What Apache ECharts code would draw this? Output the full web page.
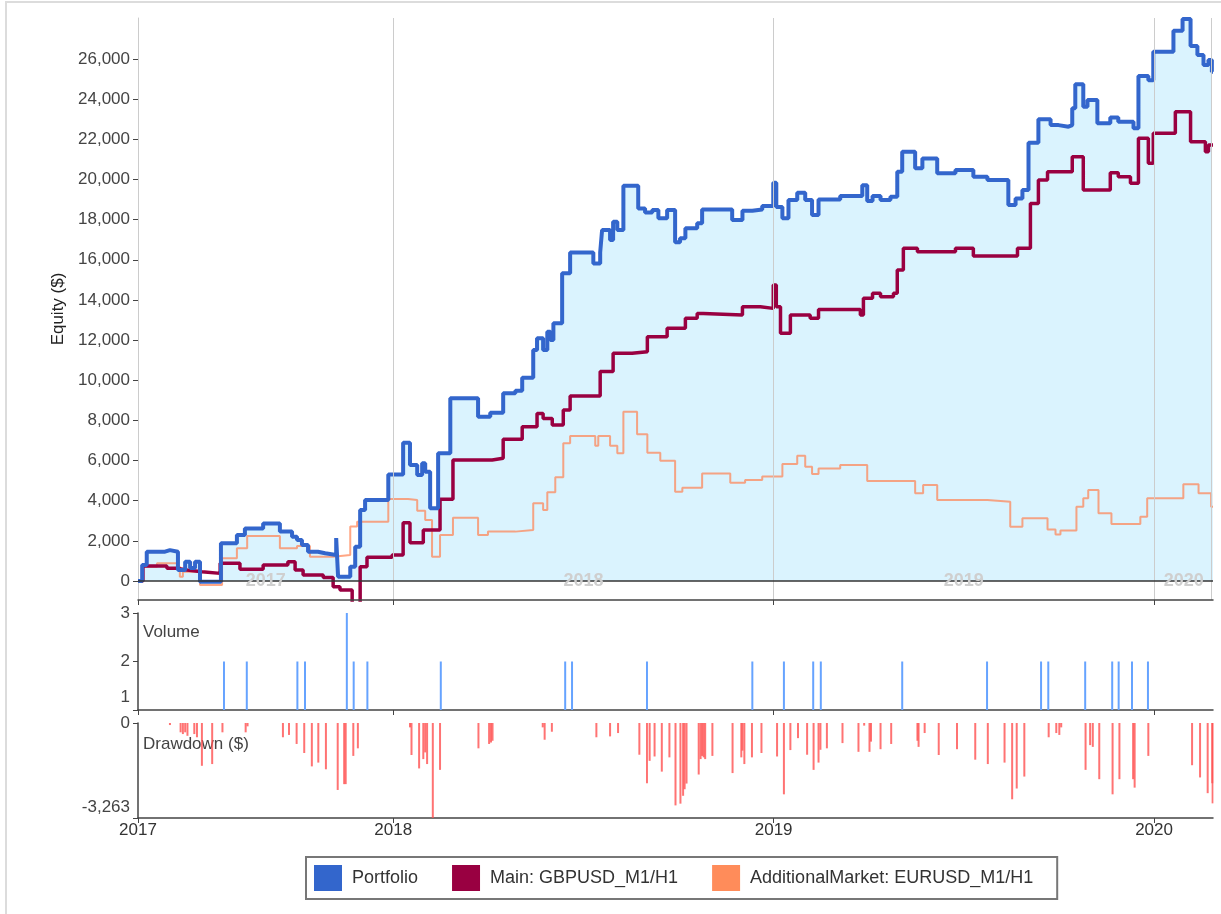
<!DOCTYPE html>
<html>
<head>
<meta charset="utf-8">
<title>Equity / Volume / Drawdown</title>
<script src="https://cdn.jsdelivr.net/npm/echarts@6.0.0/dist/echarts.min.js"></script>
<style>
    body { margin: 0; background: #fff; }
    .frame { position: absolute; left: 5px; top: 1px; width: 1300px; height: 1000px; border: 2px solid #dcdcdc; }
    #chart { position: absolute; left: 0; top: 0; width: 1221px; height: 914px; }
</style>
</head>
<body>
<div class="frame"></div>
<div id="chart"></div>
<script>
// x values are decimal years
const X_MIN = 2017.329;
const X_MAX = 2020.155;
const YEAR_TICKS = [2017.329, 2018, 2019, 2020];
const YEAR_MIDDLES = [2017.665, 2018.5, 2019.5, 2020.078];  // grey year names inside the equity panel
const EQUITY_TICKS = [0, 2000, 4000, 6000, 8000, 10000, 12000, 14000, 16000, 18000, 20000, 22000, 24000, 26000];
const VOLUME_TICKS = [1, 2, 3];
const DRAWDOWN_TICKS = [-3263, 0];

// equity curves, [year, $] - value holds until next point
const portfolio = [
    [2017.329, 0], [2017.340, 800], [2017.352, 1460], [2017.400, 1540], [2017.413, 1460], [2017.434, 550],
    [2017.453, 960], [2017.466, 650], [2017.479, 960], [2017.492, -40], [2017.547, 1880], [2017.589, 2290],
    [2017.610, 2620], [2017.658, 2870], [2017.702, 2460], [2017.734, 2210], [2017.747, 2040], [2017.760, 1790],
    [2017.776, 1460], [2017.802, 1380], [2017.821, 1300], [2017.850, 2140], [2017.855, 215], [2017.887, 710],
    [2017.900, 1710], [2017.913, 3540], [2017.926, 4030], [2017.987, 5300], [2018.026, 6890], [2018.044, 5780],
    [2018.063, 5280], [2018.076, 5860], [2018.084, 5440], [2018.097, 3620], [2018.118, 6360], [2018.150, 9100],
    [2018.223, 8180], [2018.255, 8380], [2018.289, 9350], [2018.321, 9480], [2018.339, 10130], [2018.368, 11510],
    [2018.378, 12090], [2018.394, 11510], [2018.405, 12420], [2018.413, 12000], [2018.421, 12840], [2018.444, 15330],
    [2018.465, 16370], [2018.526, 15820], [2018.544, 16370], [2018.549, 17480], [2018.570, 16990], [2018.578, 17900],
    [2018.589, 17480], [2018.605, 19690], [2018.644, 18560], [2018.662, 18360], [2018.681, 18480], [2018.697, 18070],
    [2018.720, 18480], [2018.741, 16870], [2018.754, 17070], [2018.768, 17570], [2018.799, 17820], [2018.812, 18510],
    [2018.891, 17980], [2018.918, 18440], [2018.944, 18510], [2018.970, 18680], [2018.999, 19840], [2019.007, 18630],
    [2019.023, 18070], [2019.039, 18980], [2019.062, 19340], [2019.083, 18980], [2019.101, 18230], [2019.118, 19010],
    [2019.175, 19180], [2019.233, 19720], [2019.246, 18930], [2019.260, 19180], [2019.281, 18980], [2019.307, 19140],
    [2019.325, 20390], [2019.338, 21380], [2019.372, 20560], [2019.391, 21050], [2019.430, 20310], [2019.478, 20470],
    [2019.525, 20140], [2019.562, 19970], [2019.617, 18730], [2019.636, 19060], [2019.654, 19480], [2019.670, 21830],
    [2019.696, 23000], [2019.728, 22710], [2019.749, 22630], [2019.775, 22710], [2019.785, 23550], [2019.793, 24740],
    [2019.814, 23620], [2019.825, 23960], [2019.851, 22800], [2019.885, 23090], [2019.906, 22880], [2019.946, 22550],
    [2019.959, 25150], [2019.985, 24950], [2019.998, 26370], [2020.051, 27410], [2020.075, 28000], [2020.096, 26650],
    [2020.114, 26200], [2020.130, 25700], [2020.143, 25950], [2020.152, 25370], [2020.155, 25370]
];

const mainGbpusd = [
    [2017.329, 0], [2017.342, 750], [2017.405, 630], [2017.434, 550], [2017.458, 460], [2017.497, 380],
    [2017.545, 880], [2017.597, 580], [2017.658, 800], [2017.723, 960], [2017.742, 550], [2017.763, 300],
    [2017.816, 180], [2017.842, -280], [2017.860, -450], [2017.892, -1200], [2017.913, 710], [2017.931, 1180],
    [2017.997, 1300], [2018.026, 2900], [2018.044, 1910], [2018.079, 2540], [2018.123, 4070], [2018.157, 6030],
    [2018.260, 6110], [2018.289, 7060], [2018.339, 7690], [2018.378, 8350], [2018.394, 8100], [2018.418, 7770],
    [2018.447, 8520], [2018.465, 9210], [2018.544, 10430], [2018.578, 11340], [2018.628, 11420], [2018.668, 12170],
    [2018.720, 12590], [2018.768, 13090], [2018.799, 13330], [2018.815, 13250], [2018.918, 13660], [2018.965, 13580],
    [2018.999, 14740], [2019.007, 13660], [2019.018, 12340], [2019.044, 13250], [2019.096, 13090], [2019.118, 13530],
    [2019.228, 13250], [2019.236, 14080], [2019.260, 14330], [2019.281, 14160], [2019.315, 14330], [2019.325, 15490],
    [2019.341, 16570], [2019.378, 16400], [2019.478, 16570], [2019.525, 16190], [2019.641, 16570], [2019.675, 18810],
    [2019.696, 19970], [2019.720, 20390], [2019.785, 21130], [2019.814, 19480], [2019.885, 20340], [2019.906, 20140],
    [2019.938, 19810], [2019.959, 22050], [2019.985, 20810], [2019.998, 22300], [2020.056, 23380], [2020.096, 21880],
    [2020.135, 21380], [2020.143, 21720], [2020.155, 21720]
];

const additionalEurusd = [
    [2017.329, 0], [2017.342, 710], [2017.379, 880], [2017.432, 710], [2017.439, 215], [2017.447, 460],
    [2017.492, -200], [2017.550, 1130], [2017.589, 1630], [2017.616, 2240], [2017.702, 1630], [2017.747, 1740],
    [2017.781, 1210], [2017.842, 1300], [2017.887, 2710], [2017.905, 2950], [2017.987, 4080], [2018.039, 4030],
    [2018.063, 3500], [2018.084, 3040], [2018.102, 1210], [2018.123, 2290], [2018.157, 3150], [2018.223, 2290],
    [2018.249, 2460], [2018.321, 2540], [2018.368, 3870], [2018.394, 3540], [2018.405, 4420], [2018.426, 5170],
    [2018.447, 6860], [2018.465, 7220], [2018.531, 6740], [2018.539, 7220], [2018.570, 6740], [2018.589, 6360],
    [2018.605, 8430], [2018.641, 7310], [2018.668, 6390], [2018.702, 5990], [2018.741, 4450], [2018.760, 4650],
    [2018.812, 5360], [2018.886, 4900], [2018.925, 5030], [2018.970, 5200], [2019.023, 5830], [2019.062, 6240],
    [2019.083, 5690], [2019.101, 5330], [2019.118, 5610], [2019.175, 5780], [2019.246, 4980], [2019.372, 4370],
    [2019.393, 4780], [2019.430, 4030], [2019.562, 3950], [2019.622, 2700], [2019.654, 3120], [2019.720, 2570],
    [2019.741, 2320], [2019.754, 2510], [2019.796, 3700], [2019.814, 4120], [2019.827, 4530], [2019.854, 3370],
    [2019.888, 2840], [2019.964, 3200], [2019.982, 4120], [2020.077, 4820], [2020.117, 4370], [2020.150, 3700],
    [2020.155, 3700]
];

// trades volume
const volumeTimes = [
    2017.555, 2017.615, 2017.748, 2017.768, 2017.878, 2017.896, 2017.932, 2018.125, 2018.452, 2018.470,
    2018.667, 2018.944, 2019.027, 2019.104, 2019.124, 2019.338, 2019.561, 2019.703, 2019.722, 2019.819,
    2019.890, 2019.907, 2019.942, 2019.984
];
const volumeValues = [2, 2, 2, 2, 3, 2, 2, 2, 2, 2, 2, 2, 2, 2, 2, 2, 2, 2, 2, 2, 2, 2, 2, 2];

// drawdown, [year, $]
const drawdown = [
    [2017.413, -70], [2017.441, -320], [2017.447, -380], [2017.453, -320], [2017.459, -440], [2017.477, -380],
    [2017.484, -490], [2017.497, -1470], [2017.524, -1410], [2017.551, -320], [2017.612, -320], [2017.617, -115],
    [2017.710, -490], [2017.726, -410], [2017.746, -720], [2017.766, -1030], [2017.786, -1490], [2017.803, -1360],
    [2017.823, -1590], [2017.854, -2300], [2017.871, -2100], [2017.875, -2100], [2017.895, -1130], [2017.907, -870],
    [2018.044, -150], [2018.048, -1100], [2018.068, -1560], [2018.079, -1240], [2018.084, -1010], [2018.089, -1410],
    [2018.104, -3263], [2018.123, -1610], [2018.224, -870], [2018.252, -720], [2018.257, -670], [2018.261, -610],
    [2018.393, -150], [2018.398, -575], [2018.417, -300], [2018.534, -490], [2018.570, -460], [2018.591, -345],
    [2018.647, -1090], [2018.667, -2070], [2018.674, -1300], [2018.687, -1150], [2018.706, -1670], [2018.726, -1180],
    [2018.742, -2830], [2018.755, -2770], [2018.762, -2500], [2018.766, -2275], [2018.771, -2080], [2018.803, -1770],
    [2018.808, -1240], [2018.812, -1130], [2018.816, -1180], [2018.820, -1240], [2018.839, -1130], [2018.892, -1720],
    [2018.915, -1180], [2018.918, -950], [2018.923, -1410], [2018.943, -1180], [2018.968, -1030], [2019.009, -1150],
    [2019.027, -2450], [2019.044, -930], [2019.064, -520], [2019.088, -1090], [2019.105, -1610], [2019.118, -1360],
    [2019.123, -920], [2019.140, -870], [2019.181, -690], [2019.223, -990], [2019.238, -90], [2019.252, -990],
    [2019.256, -640], [2019.281, -900], [2019.309, -720], [2019.378, -610], [2019.381, -820], [2019.397, -345],
    [2019.434, -1100], [2019.482, -900], [2019.530, -1260], [2019.563, -1410], [2019.607, -1360], [2019.627, -2620],
    [2019.639, -2250], [2019.659, -1840], [2019.723, -490], [2019.743, -345], [2019.751, -410], [2019.756, -150],
    [2019.820, -1610], [2019.832, -760], [2019.839, -820], [2019.856, -1930], [2019.891, -2450], [2019.909, -1930],
    [2019.945, -1930], [2019.949, -2220], [2019.985, -1130], [2020.100, -1450], [2020.121, -1870], [2020.141, -2410],
    [2020.153, -2070], [2020.154, -2760]
];

const FONT = 'Liberation Sans, Arial, sans-serif';
const yearText = function (v) { return String(Math.floor(v + 1e-6)); };
const money = function (v) { return v.toLocaleString('en-US'); };

let chart = echarts.init(document.getElementById('chart'));

// min label sits just above the axis end, like the original
const edgeLabel = function (edgeValue) {
    return function (v) {
        let s = money(v);
        return v === edgeValue ? '{edge|' + s + '}' : s;
    };
};

const darkLine = { color: '#444', width: 1.5 };
const baseX = { type: 'value', min: X_MIN, max: X_MAX, splitLine: { show: false } };

let option = {
    animation: false,
    textStyle: { fontFamily: FONT },
    grid: [
        { left: 138, top: 18, width: 1075, height: 582 },
        { left: 138, top: 613, width: 1075, height: 97 },
        { left: 138, top: 723, width: 1075, height: 95 }
    ],
    xAxis: [
        Object.assign({}, baseX, {
            gridIndex: 0, z: 10,
            axisLine: { show: true, onZero: false, lineStyle: darkLine },
            axisTick: { show: true, customValues: YEAR_TICKS, length: 5, lineStyle: { color: '#444' } },
            axisLabel: {
                customValues: YEAR_MIDDLES, inside: true, margin: 10, formatter: yearText,
                color: '#cfcfcf', fontWeight: 'bold', fontSize: 18, fontFamily: FONT
            }
        }),
        Object.assign({}, baseX, {
            gridIndex: 1,
            axisLine: { show: true, onZero: false, lineStyle: darkLine },
            axisTick: { show: true, customValues: YEAR_TICKS, length: 5, lineStyle: { color: '#444' } },
            axisLabel: { show: false }
        }),
        Object.assign({}, baseX, {
            gridIndex: 2,
            axisLine: { show: true, onZero: false, lineStyle: darkLine },
            axisTick: { show: true, customValues: YEAR_TICKS, length: 5, lineStyle: { color: '#444' } },
            axisLabel: { customValues: YEAR_TICKS, formatter: yearText, margin: 4, color: '#333', fontSize: 17, fontFamily: FONT }
        })
    ],
    yAxis: [
        {
            gridIndex: 0, type: 'value', min: -946, max: 28045,
            name: 'Equity ($)', nameLocation: 'middle', nameGap: 64,
            nameTextStyle: { color: '#222', fontSize: 17, fontFamily: FONT },
            axisLine: { show: true, lineStyle: { color: '#cccccc', width: 1 } },
            axisTick: { show: true, customValues: EQUITY_TICKS, length: 5, lineStyle: { color: '#444' } },
            axisLabel: { customValues: EQUITY_TICKS, formatter: money, margin: 8, color: '#444', fontSize: 17, fontFamily: FONT },
            splitLine: { show: false }
        },
        {
            gridIndex: 1, type: 'value', min: 1, max: 3,
            axisLine: { show: true, lineStyle: darkLine },
            axisTick: { show: true, customValues: VOLUME_TICKS, length: 5, lineStyle: { color: '#444' } },
            axisLabel: {
                customValues: VOLUME_TICKS, formatter: edgeLabel(1), margin: 8, color: '#444', fontSize: 17, fontFamily: FONT,
                rich: { edge: { fontSize: 17, color: '#444', fontFamily: FONT, padding: [0, 0, 26, 0] } }
            },
            splitLine: { show: false }
        },
        {
            gridIndex: 2, type: 'value', min: -3263, max: 0,
            axisLine: { show: true, lineStyle: darkLine },
            axisTick: { show: true, customValues: DRAWDOWN_TICKS, length: 5, lineStyle: { color: '#444' } },
            axisLabel: {
                customValues: DRAWDOWN_TICKS, formatter: edgeLabel(-3263), margin: 8, color: '#444', fontSize: 17, fontFamily: FONT,
                rich: { edge: { fontSize: 17, color: '#444', fontFamily: FONT, padding: [0, 0, 22, 0] } }
            },
            splitLine: { show: false }
        }
    ],
    legend: {
        left: 306, top: 857,
        data: ['Portfolio', 'Main: GBPUSD_M1/H1', 'AdditionalMarket: EURUSD_M1/H1'],
        icon: 'rect', itemWidth: 28, itemHeight: 26, itemGap: 34,
        borderColor: '#777', borderWidth: 2, borderRadius: 0,
        padding: [8, 24, 8, 8],
        textStyle: { color: '#333', fontSize: 18, fontFamily: FONT, padding: [0, 0, 0, 5] }
    },
    graphic: [
        { type: 'text', left: 143, top: 624, style: { text: 'Volume', fill: '#444', font: '17px ' + FONT } },
        { type: 'text', left: 143, top: 736, style: { text: 'Drawdown ($)', fill: '#444', font: '17px ' + FONT } }
    ],
    series: [
        {
            // light blue fill under the portfolio curve, plus year lines and zero line
            name: 'fill', type: 'line', xAxisIndex: 0, yAxisIndex: 0, step: 'end',
            data: portfolio, showSymbol: false, silent: true, z: 1,
            lineStyle: { width: 0 },
            areaStyle: { color: '#daf3fe', opacity: 1 },
            markLine: {
                silent: true, symbol: ['none', 'none'], label: { show: false },
                lineStyle: { color: '#cccccc', width: 1, type: 'solid' },
                data: [
                    { xAxis: 2018 }, { xAxis: 2019 }, { xAxis: 2020 }, { xAxis: X_MAX },
                    { yAxis: 0, lineStyle: { color: '#333', width: 1.5, type: 'solid' } }
                ]
            }
        },
        {
            name: 'AdditionalMarket: EURUSD_M1/H1', type: 'line', xAxisIndex: 0, yAxisIndex: 0, step: 'end',
            data: additionalEurusd, showSymbol: false, z: 2,
            itemStyle: { color: '#ff8c5a' },
            lineStyle: { color: 'rgba(255,128,80,0.7)', width: 2 }
        },
        {
            name: 'Main: GBPUSD_M1/H1', type: 'line', xAxisIndex: 0, yAxisIndex: 0, step: 'end',
            data: mainGbpusd, showSymbol: false, z: 3,
            itemStyle: { color: '#990041' },
            lineStyle: { color: '#990041', width: 3.5 }
        },
        {
            name: 'Portfolio', type: 'line', xAxisIndex: 0, yAxisIndex: 0, step: 'end',
            data: portfolio, showSymbol: false, z: 4,
            itemStyle: { color: '#3366cc' },
            lineStyle: { color: '#3366cc', width: 4 }
        },
        {
            name: 'Volume', type: 'bar', xAxisIndex: 1, yAxisIndex: 1,
            data: volumeTimes.map(function (t, i) { return [t, volumeValues[i]]; }),
            barWidth: 2, itemStyle: { color: '#66a3ff' }
        },
        {
            name: 'Drawdown ($)', type: 'bar', xAxisIndex: 2, yAxisIndex: 2,
            data: drawdown, barWidth: 2, barGap: '-100%',
            itemStyle: { color: 'rgba(255,80,80,0.8)' }
        }
    ]
};

chart.setOption(option);
window.addEventListener('resize', function () { chart.resize(); });
</script>
</body>
</html>
